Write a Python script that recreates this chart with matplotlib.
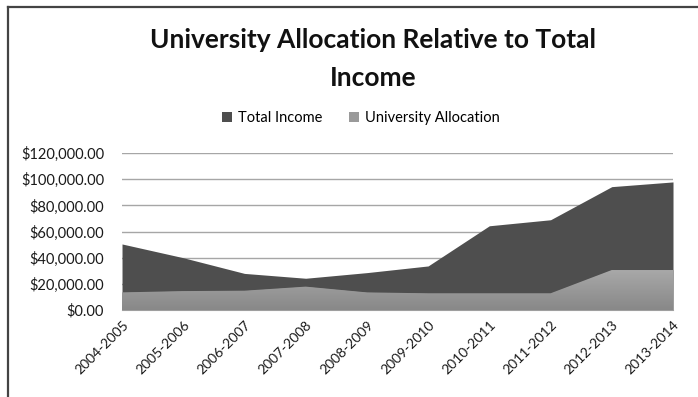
import numpy as np
import matplotlib
matplotlib.use("Agg")
import matplotlib.pyplot as plt
from matplotlib.lines import Line2D
from matplotlib.ticker import FuncFormatter

plt.rcParams['font.family'] = ['Lato', 'DejaVu Sans']

# Data
years = ["2004-2005", "2005-2006", "2006-2007", "2007-2008", "2008-2009",
         "2009-2010", "2010-2011", "2011-2012", "2012-2013", "2013-2014"]
total_income = [50500, 40000, 28000, 24300, 28600, 33700, 64400, 69000, 94300, 97900]
uni_alloc = [13500, 14500, 14800, 17900, 13500, 12800, 12800, 12800, 30600, 30600]

fig = plt.figure(figsize=(6.98, 3.97), dpi=100)
ax = fig.add_axes([0.1748, 0.219, 0.7894, 0.3956])

x = np.arange(len(years))

# Total income area (behind)
ax.fill_between(x, 0, total_income, color="#4e4e4e", lw=0, zorder=2,
                label="Total Income")

# University allocation area with a light vertical gradient
poly = ax.fill_between(x, 0, uni_alloc, color="#9a9a9a", lw=0, zorder=3,
                       label="University Allocation")
grad = np.linspace(0, 1, 256).reshape(-1, 1)
cmap = matplotlib.colors.LinearSegmentedColormap.from_list("g", ["#888888", "#a9a9a9"])
im = ax.imshow(grad, cmap=cmap, aspect="auto", origin="lower",
               extent=[0, len(years) - 1, 0, max(uni_alloc)], zorder=3.5)
im.set_clip_path(poly.get_paths()[0], transform=ax.transData)

ax.set_xlim(0, len(years) - 1)
ax.set_ylim(0, 120000)
ax.set_yticks(np.arange(0, 120001, 20000))
ax.yaxis.set_major_formatter(FuncFormatter(lambda v, p: "${:,.2f}".format(v)))
ax.grid(axis="y", color="#a6a6a6", lw=1.0, zorder=1)
ax.set_axisbelow(True)

ax.set_xticks(x)
ax.set_xticklabels(years, rotation=45, ha="right", rotation_mode="anchor")
for s in ["top", "right", "left"]:
    ax.spines[s].set_visible(False)
ax.spines["bottom"].set_color("#a6a6a6")
ax.tick_params(axis="both", length=0, labelsize=10.5, colors="#1a1a1a")
ax.tick_params(axis="x", labelsize=10, pad=6)
ax.tick_params(axis="y", pad=13)

fig.text(0.535, 0.898, "University Allocation Relative to Total",
         ha="center", va="center", fontsize=19, fontweight="bold", color="#111111")
fig.text(0.535, 0.803, "Income",
         ha="center", va="center", fontsize=19, fontweight="bold", color="#111111")

handles, labels = ax.get_legend_handles_labels()
fig.legend(handles, labels, loc="center", bbox_to_anchor=(0.517, 0.703), ncol=2,
           frameon=False, fontsize=10.5, handlelength=0.7, handleheight=0.7,
           handletextpad=0.4, columnspacing=1.8)

# outer frame lines (top and left)
fig.add_artist(Line2D([8 / 698, 1], [1 - 7 / 397, 1 - 7 / 397], color="#444444", lw=1.6))
fig.add_artist(Line2D([8 / 698, 8 / 698], [0, 1 - 7 / 397], color="#444444", lw=1.6))

fig.savefig("out.png", dpi=100)
